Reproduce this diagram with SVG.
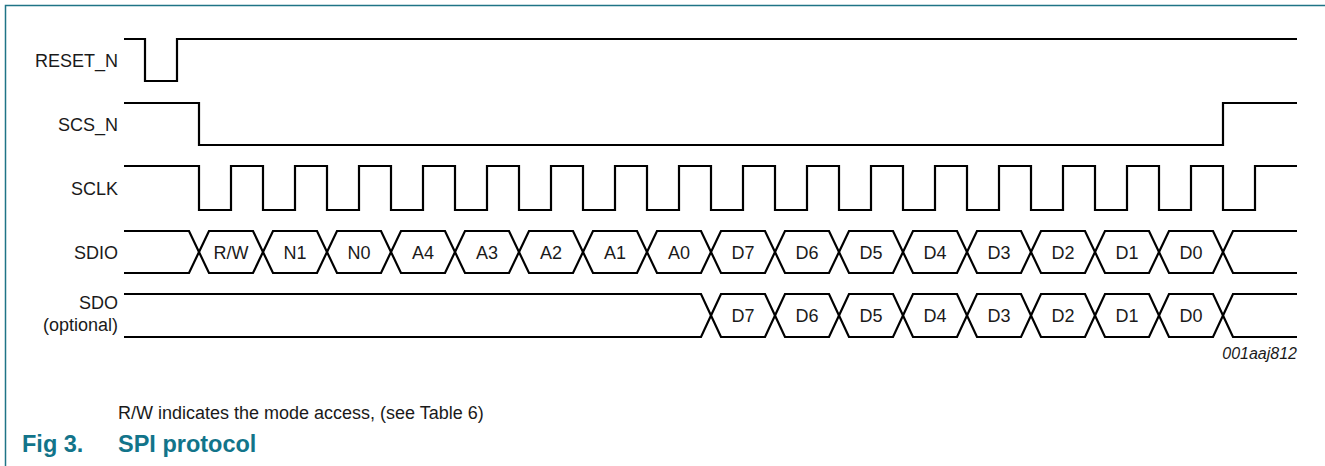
<svg xmlns="http://www.w3.org/2000/svg" width="1325" height="466" viewBox="0 0 1325 466">
<style>
.w{fill:none;stroke:#000;stroke-width:2.2;stroke-linejoin:miter}
.lbl{font-family:"Liberation Sans",Arial,sans-serif;font-size:18px;fill:#1a1a1a;text-anchor:end}
.bit{font-family:"Liberation Sans",Arial,sans-serif;font-size:18px;fill:#1a1a1a;text-anchor:middle}
.note{font-family:"Liberation Sans",Arial,sans-serif;font-size:18px;fill:#1a1a1a}
.title{font-family:"Liberation Sans",Arial,sans-serif;font-size:23.5px;font-weight:bold;fill:#12748a}
.id{font-family:"Liberation Sans",Arial,sans-serif;font-size:16px;font-style:italic;fill:#1a1a1a;text-anchor:end}
</style>
<rect width="1325" height="466" fill="#fff"/>
<path d="M5.5,466 V5.5 H1325" fill="none" stroke="#1f7486" stroke-width="1.5"/>

<g id="RESET_N">
<text class="lbl" x="118" y="67">RESET_N</text>
<path class="w" d="M124,39 H145 V81 H177 V39 H1297"/>
</g>

<g id="SCS_N">
<text class="lbl" x="118" y="131">SCS_N</text>
<path class="w" d="M124,103 H199 V145 H1223 V103 H1297"/>
</g>

<g id="SCLK">
<text class="lbl" x="118" y="195">SCLK</text>
<path class="w" d="M124,166 H199 V210 H231 V166 H263 V210 H295 V166 H327 V210 H359 V166 H391 V210 H423 V166 H455 V210 H487 V166 H519 V210 H551 V166 H583 V210 H615 V166 H647 V210 H679 V166 H711 V210 H743 V166 H775 V210 H807 V166 H839 V210 H871 V166 H903 V210 H935 V166 H967 V210 H999 V166 H1031 V210 H1063 V166 H1095 V210 H1127 V166 H1159 V210 H1191 V166 H1223 V210 H1255 V166 H1297"/>
</g>

<g id="SDIO">
<text class="lbl" x="118" y="259">SDIO</text>
<path class="w" d="M124,231 H189 L199,252 L189,273 H124"/>
<path class="w" d="M1297,231 H1233 L1223,252 L1233,273 H1297"/>
<path class="w" d="M199,252 L209,231 H253 L263,252 L253,273 H209 Z"/>
<path class="w" d="M263,252 L273,231 H317 L327,252 L317,273 H273 Z"/>
<path class="w" d="M327,252 L337,231 H381 L391,252 L381,273 H337 Z"/>
<path class="w" d="M391,252 L401,231 H445 L455,252 L445,273 H401 Z"/>
<path class="w" d="M455,252 L465,231 H509 L519,252 L509,273 H465 Z"/>
<path class="w" d="M519,252 L529,231 H573 L583,252 L573,273 H529 Z"/>
<path class="w" d="M583,252 L593,231 H637 L647,252 L637,273 H593 Z"/>
<path class="w" d="M647,252 L657,231 H701 L711,252 L701,273 H657 Z"/>
<path class="w" d="M711,252 L721,231 H765 L775,252 L765,273 H721 Z"/>
<path class="w" d="M775,252 L785,231 H829 L839,252 L829,273 H785 Z"/>
<path class="w" d="M839,252 L849,231 H893 L903,252 L893,273 H849 Z"/>
<path class="w" d="M903,252 L913,231 H957 L967,252 L957,273 H913 Z"/>
<path class="w" d="M967,252 L977,231 H1021 L1031,252 L1021,273 H977 Z"/>
<path class="w" d="M1031,252 L1041,231 H1085 L1095,252 L1085,273 H1041 Z"/>
<path class="w" d="M1095,252 L1105,231 H1149 L1159,252 L1149,273 H1105 Z"/>
<path class="w" d="M1159,252 L1169,231 H1213 L1223,252 L1213,273 H1169 Z"/>
<text class="bit" x="231" y="259">R/W</text>
<text class="bit" x="295" y="259">N1</text>
<text class="bit" x="359" y="259">N0</text>
<text class="bit" x="423" y="259">A4</text>
<text class="bit" x="487" y="259">A3</text>
<text class="bit" x="551" y="259">A2</text>
<text class="bit" x="615" y="259">A1</text>
<text class="bit" x="679" y="259">A0</text>
<text class="bit" x="743" y="259">D7</text>
<text class="bit" x="807" y="259">D6</text>
<text class="bit" x="871" y="259">D5</text>
<text class="bit" x="935" y="259">D4</text>
<text class="bit" x="999" y="259">D3</text>
<text class="bit" x="1063" y="259">D2</text>
<text class="bit" x="1127" y="259">D1</text>
<text class="bit" x="1191" y="259">D0</text>
</g>

<g id="SDO">
<text class="lbl" x="118" y="309">SDO</text>
<text class="lbl" x="118" y="331">(optional)</text>
<path class="w" d="M124,294 H701 L711,315.5 L701,337 H124"/>
<path class="w" d="M1297,294 H1233 L1223,315.5 L1233,337 H1297"/>
<path class="w" d="M711,315.5 L721,294 H765 L775,315.5 L765,337 H721 Z"/>
<path class="w" d="M775,315.5 L785,294 H829 L839,315.5 L829,337 H785 Z"/>
<path class="w" d="M839,315.5 L849,294 H893 L903,315.5 L893,337 H849 Z"/>
<path class="w" d="M903,315.5 L913,294 H957 L967,315.5 L957,337 H913 Z"/>
<path class="w" d="M967,315.5 L977,294 H1021 L1031,315.5 L1021,337 H977 Z"/>
<path class="w" d="M1031,315.5 L1041,294 H1085 L1095,315.5 L1085,337 H1041 Z"/>
<path class="w" d="M1095,315.5 L1105,294 H1149 L1159,315.5 L1149,337 H1105 Z"/>
<path class="w" d="M1159,315.5 L1169,294 H1213 L1223,315.5 L1213,337 H1169 Z"/>
<text class="bit" x="743" y="322">D7</text>
<text class="bit" x="807" y="322">D6</text>
<text class="bit" x="871" y="322">D5</text>
<text class="bit" x="935" y="322">D4</text>
<text class="bit" x="999" y="322">D3</text>
<text class="bit" x="1063" y="322">D2</text>
<text class="bit" x="1127" y="322">D1</text>
<text class="bit" x="1191" y="322">D0</text>
</g>

<text class="id" x="1297" y="359">001aaj812</text>
<text class="note" x="118" y="419">R/W indicates the mode access, (see Table 6)</text>
<text class="title" x="22" y="452">Fig 3.</text>
<text class="title" x="118" y="452">SPI protocol</text>
</svg>
